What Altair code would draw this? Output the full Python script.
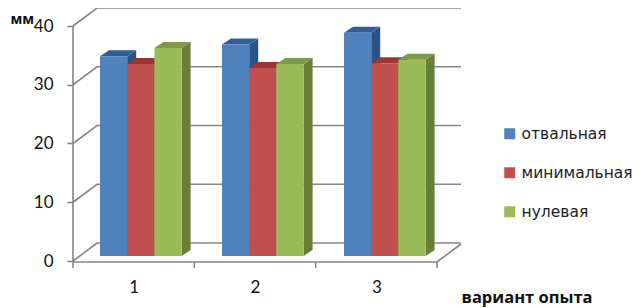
import altair as alt
import pandas as pd

categories = ["1", "2", "3"]
series = ["отвальная", "минимальная", "нулевая"]
otvalnaya = [34.0, 36.0, 38.0]
minimalnaya = [32.7, 32.0, 32.8]
nulevaya = [35.4, 32.7, 33.4]
ticks_y = [0, 10, 20, 30, 40]
front_colors = ["#4F81BD", "#C0504D", "#9BBB59"]
top_colors = ["#2F5F9A", "#9E3535", "#7D9A45"]
side_colors = ["#2C5282", "#8C2F2C", "#677F38"]
grid_color = "#868686"

values = [otvalnaya, minimalnaya, nulevaya]

# projection of the 3-D box in axis units
PX_X = 121.33
PX_Y = 5.875
wall_dx = 24 / PX_X
wall_dy = 18 / PX_Y
bar_dx = 9 / PX_X
bar_dy = 6 / PX_Y
base = 5 / PX_Y
first_left = 27 / PX_X
group_step = 122 / PX_X
bar_w = 27.2 / PX_X
floor = -1 / PX_Y

grid_rows = []
for v in ticks_y:
    grid_rows += [
        {"line": f"g{v}", "o": 0, "x": 0, "y": v},
        {"line": f"g{v}", "o": 1, "x": wall_dx, "y": v + wall_dy},
        {"line": f"g{v}", "o": 2, "x": 3 + wall_dx, "y": v + wall_dy},
    ]
grid_rows += [
    {"line": "wall", "o": 0, "x": 0, "y": 40},
    {"line": "wall", "o": 1, "x": 0, "y": floor},
    {"line": "floor", "o": 0, "x": 0, "y": floor},
    {"line": "floor", "o": 1, "x": 3, "y": floor},
    {"line": "floor", "o": 2, "x": 3 + wall_dx, "y": floor + wall_dy},
]
for i in range(4):
    grid_rows += [
        {"line": f"t{i}", "o": 0, "x": i, "y": floor},
        {"line": f"t{i}", "o": 1, "x": i, "y": floor - 1},
    ]
grid = pd.DataFrame(grid_rows)

x_scale = alt.Scale(domain=[0, 392 / PX_X], nice=False, zero=False)
y_scale = alt.Scale(domain=[-7 / PX_Y, 253 / PX_Y], nice=False, zero=False)
fill_scale = alt.Scale(domain=series, range=front_colors)

grid_layer = alt.Chart(grid).mark_line(color=grid_color, strokeWidth=1.6, clip=False).encode(
    x=alt.X(
        "x:Q", scale=x_scale,
        axis=alt.Axis(
            values=[0.5, 1.5, 2.5], labelExpr="datum.value + 0.5", domain=False, ticks=False, grid=False,
            labelFont="Lato", labelFontSize=17, labelColor="#111", labelPadding=11,
            title="вариант опыта", titleFont="Open Sans", titleFontSize=16.5, titleFontWeight="bold",
            titleColor="#111", titleX=388, titleY=34, titleAlign="left", titleBaseline="alphabetic",
        ),
    ),
    y=alt.Y(
        "y:Q", scale=y_scale,
        axis=alt.Axis(
            values=ticks_y, domain=False, grid=False, tickColor=grid_color, tickSize=6, tickWidth=1.6,
            labelFont="Lato", labelFontSize=17, labelColor="#111", labelPadding=14,
            title="мм", titleFont="Open Sans", titleFontSize=14, titleFontWeight="bold", titleColor="#111",
            titleAngle=0, titleX=-63, titleY=15, titleAlign="left", titleBaseline="alphabetic",
        ),
    ),
    detail="line:N",
    order="o:Q",
)

layers = [grid_layer]
for s, name in enumerate(series):
    side_rows, top_rows, front_rows = [], [], []
    for g, cat in enumerate(categories):
        v = values[s][g]
        left = first_left + g * group_step + s * bar_w
        right = left + bar_w
        top = v + base
        side_rows += [
            {"cat": cat, "x": right, "y": top, "y2": base},
            {"cat": cat, "x": right + bar_dx, "y": top + bar_dy, "y2": base + bar_dy},
        ]
        top_rows += [
            {"cat": cat, "y": top, "x": left, "x2": right},
            {"cat": cat, "y": top + bar_dy, "x": left + bar_dx, "x2": right + bar_dx},
        ]
        front_rows.append({"cat": cat, "series": name, "x": left, "x2": right, "y": top, "y2": base})
    layers.append(
        alt.Chart(pd.DataFrame(side_rows)).mark_area(orient="vertical", color=side_colors[s], clip=False).encode(
            x=alt.X("x:Q", scale=x_scale), y=alt.Y("y:Q", scale=y_scale, stack=None), y2="y2:Q", detail="cat:N"
        )
    )
    layers.append(
        alt.Chart(pd.DataFrame(top_rows)).mark_area(orient="horizontal", color=top_colors[s], clip=False).encode(
            y=alt.Y("y:Q", scale=y_scale), x=alt.X("x:Q", scale=x_scale, stack=None), x2="x2:Q", detail="cat:N"
        )
    )
    layers.append(
        alt.Chart(pd.DataFrame(front_rows)).mark_rect(clip=False).encode(
            x=alt.X("x:Q", scale=x_scale),
            x2="x2:Q",
            y=alt.Y("y:Q", scale=y_scale),
            y2="y2:Q",
            fill=alt.Fill(
                "series:N", scale=fill_scale,
                legend=alt.Legend(
                    title=None, orient="none", legendX=429, legendY=118,
                    symbolType="square", symbolSize=121, symbolStrokeWidth=0,
                    labelFont="DejaVu Sans", labelFontSize=15.5, labelColor="#222",
                    rowPadding=22, labelOffset=4, values=series,
                ),
                sort=series,
            ),
        )
    )

chart = alt.layer(*layers).properties(
    width=392,
    height=260,
    padding={"left": 65, "top": 0, "right": 170, "bottom": 40},
    autosize=alt.AutoSizeParams(type="none"),
    background="white",
).configure_view(stroke=None)

chart.save("out.html", embed_options={"renderer": "svg", "actions": False})
